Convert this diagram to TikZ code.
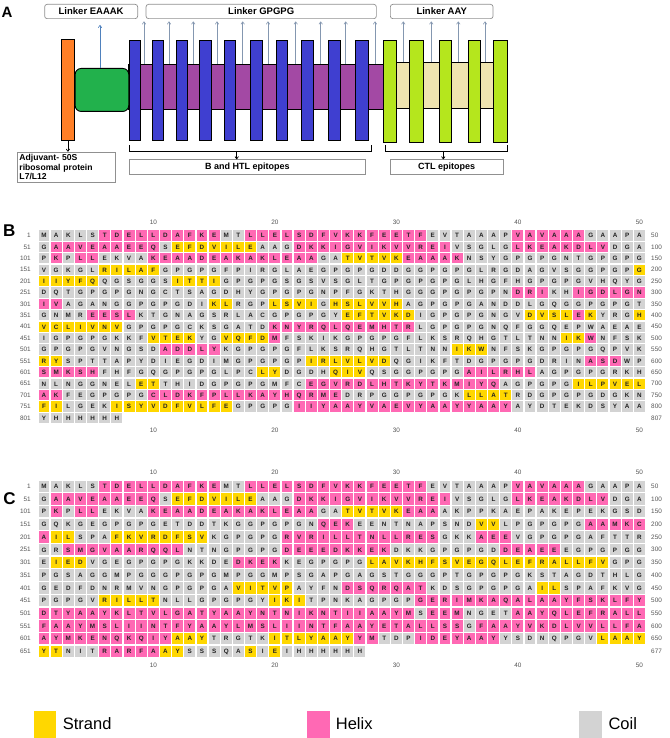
\documentclass[tikz,border=0pt]{standalone}
\usepackage{fontspec}
\setmainfont{Liberation Sans}
\usetikzlibrary{arrows.meta}
\definecolor{helixc}{HTML}{FF69B4}
\definecolor{strandc}{HTML}{FFD700}
\definecolor{coilc}{HTML}{D3D3D3}
\definecolor{orangebar}{HTML}{FF7F27}
\definecolor{greenbox}{HTML}{22B14C}
\definecolor{bluebarc}{HTML}{3F3FD0}
\definecolor{purpleband}{HTML}{A349A4}
\definecolor{limebar}{HTML}{B5E61D}
\definecolor{beigeband}{HTML}{EFE4B0}
\definecolor{arrowgray}{HTML}{8497B0}
\definecolor{linkblue}{HTML}{4F81BD}
\definecolor{boxgray}{HTML}{909090}
\definecolor{numgray}{HTML}{555555}
\definecolor{lettc}{HTML}{222222}
\newcount\colidx
\def\cellh{10.2pt}
\makeatletter
\def\sr@st{C}
\newcommand\seqcells[3]{%
  \def\sr@p{#1}\def\sr@y{#2}\def\sr@st{C}\global\colidx=0
  \sr@next#3\relax}
\def\sr@next#1{\ifx#1\relax\else\sr@do#1\expandafter\sr@next\fi}
\def\sr@do#1{%
  \if h#1\def\sr@st{H}\else
  \if e#1\def\sr@st{E}\else
  \if c#1\def\sr@st{C}\else
  \global\advance\colidx by 1
  \node[cell\sr@st] (\sr@p-\the\colidx) at ({44+(\the\colidx-1)*12.15},\sr@y) {#1};%
  \fi\fi\fi}
\makeatother
\newcommand\seqline[5]{%
  \node[rownum,anchor=east] (#1l) at (31,#2) {#3};
  \node[rownum,anchor=west] (#1r) at (651,#2) {#4};
  \seqcells{#1}{#2}{#5}}
\tikzset{
  cellbase/.style={minimum width=10.9pt,minimum height=\cellh,inner sep=0pt,
    text height=4.6pt,text depth=0pt,text=lettc,font=\bfseries\fontsize{6.3}{7}\selectfont},
  cellH/.style={cellbase,fill=helixc},
  cellE/.style={cellbase,fill=strandc},
  cellC/.style={cellbase,fill=coilc},
  rownum/.style={inner sep=0pt,font=\fontsize{6.4}{7}\selectfont,text=numgray},
  colnum/.style={inner sep=0pt,font=\fontsize{6.4}{7}\selectfont,text=numgray},
  panellab/.style={inner sep=0pt,font=\bfseries\fontsize{17}{18}\selectfont},
  linkbox/.style={draw=boxgray,rounded corners=2.5pt,line width=0.7pt,inner sep=0pt,
    anchor=north west,minimum height=14.3pt,font=\bfseries\fontsize{9.5}{10}\selectfont},
  epibox/.style={draw=boxgray,line width=0.6pt,inner sep=0pt,anchor=north west,
    minimum height=14.7pt,font=\bfseries\fontsize{9}{10}\selectfont},
  barbase/.style={draw=black,line width=0.9pt,inner sep=0pt,anchor=north west},
  bluebar/.style={barbase,fill=bluebarc,minimum height=100.5pt},
  limebarst/.style={barbase,fill=limebar,minimum height=101.7pt},
  garrow/.style={draw=arrowgray,line width=0.6pt,-{To[length=3pt,width=4pt]}},
  barrow/.style={draw=black,line width=0.7pt,-{To[length=3pt,width=4pt]}},
  bracketline/.style={draw=black,line width=0.7pt},
  legsq/.style={inner sep=0pt,anchor=north west,minimum width=22.7pt,minimum height=26.5pt},
  legtxt/.style={inner sep=0pt,anchor=west,font=\fontsize{16.5}{18}\selectfont},
}
\begin{document}
\begin{tikzpicture}[x=1pt,y=-1pt]
\fill[white] (0,0) rectangle (669,738);
\useasboundingbox (0,0) rectangle (669,738);
% ---------------- Panel A ----------------
\node[panellab,font=\bfseries\fontsize{15}{16}\selectfont] (pA) at (7,12.8) {A};
\node[linkbox,minimum width=93pt] (lk1) at (44.3,4) {Linker EAAAK};
\node[linkbox,minimum width=230.3pt] (lk2) at (145.7,4) {Linker GPGPG};
\node[linkbox,minimum width=102.7pt] (lk3) at (390,4) {Linker AAY};
\node[barbase,fill=purpleband,minimum width=255pt,minimum height=44.7pt] (band) at (128.3,64) {};
\node[barbase,fill=beigeband,minimum width=96.7pt,minimum height=46.3pt] (bband) at (396,62) {};
\node[barbase,fill=orangebar,minimum width=13pt,minimum height=100.7pt] (adj) at (61,39.3) {};
\node[barbase,fill=greenbox,rounded corners=6pt,minimum width=53.6pt,minimum height=43pt] (green) at (74.7,68) {};
\foreach \xl/\w [count=\i] in {129.3/10.7,152/11.3,176.3/11,199.3/11.4,223.7/11.6,250/11.7,275.7/11.6,301.3/11.7,328.3/11.7,355.3/12.4}
  \node[bluebar,minimum width=\w pt] (bb\i) at (\xl,40) {};
\foreach \xl/\w [count=\i] in {383.3/12.7,409.3/13.4,438.7/12,467.7/12.3,492.7/14}
  \node[limebarst,minimum width=\w pt] (lb\i) at (\xl,40) {};
\foreach \ax [count=\i] in {144,169,193.3,217,242.7,268,295.7,320.7,345.7,375}{
  \coordinate (gt\i) at (\ax,21.5);
  \draw[garrow] (band.north -| gt\i) -- (gt\i);}
\foreach \ax [count=\i] in {403.3,431.3,458.3,485}{
  \coordinate (at\i) at (\ax,21.5);
  \draw[garrow] (bband.north -| at\i) -- (at\i);}
\coordinate (et) at (100,25);
\draw[garrow,draw=linkblue] (green.north -| et) -- (et);
% brackets
\coordinate (bL) at (129.3,145);
\coordinate (bR) at (371.7,145);
\coordinate (bM) at (236.7,151);
\draw[bracketline] (bL) -- (bL |- bM) -- (bR |- bM) -- (bR);
\coordinate (cL) at (385,145);
\coordinate (cR) at (507.3,145);
\coordinate (cM) at (443.3,151);
\draw[bracketline] (cL) -- (cL |- cM) -- (cR |- cM) -- (cR);
\node[epibox,minimum width=235.7pt] (bhtl) at (129.3,159.3) {B and HTL epitopes};
\node[epibox,minimum width=112.7pt] (ctl) at (390,159.3) {CTL epitopes};
\draw[barrow] (bM) -- (bhtl.north -| bM);
\draw[barrow] (cM) -- (ctl.north -| cM);
\node[epibox,minimum height=30pt,align=left,inner xsep=2.5pt,text width=93.3pt,
  font=\bfseries\fontsize{8.6}{9.1}\selectfont] (adjbox) at (16.7,151.7)
  {Adjuvant- 50S\\ribosomal protein\\L7/L12};
\draw[barrow] (adj.south) -- (adj.south |- adjbox.north);
% ---------------- Panel B ----------------
\node[panellab] (pB) at (9.2,230.5) {B};
\foreach \n in {10,20,30,40,50}{
  \node[colnum] (Bt\n) at ({44+(\n-1)*12.15},222) {\n};
  \node[colnum] (Bb\n) at ({44+(\n-1)*12.15},430.7) {\n};}
\seqline{B1}{235.5}{1}{50}{c MAKLS h TDELLDAFKE c MT h LLELSDFVKKFEETF c EVTAAAP h VAVAAA c GAAPA}
\seqline{B51}{246.9}{51}{100}{c G h AAVEAAEEQ c S e EFDVILE c AAG h DKKIGVIKVVREI c VSGLG h LKEAKDLV c DGA}
\seqline{B101}{258.3}{101}{150}{c P h K c P h LL c EKVA h KEAADEAKAKLEAA c GA e TVTVK h EAAAK c NSYGPGPGNTGPGPG}
\seqline{B151}{269.7}{151}{200}{c VGKGL e RILAF c GPGPGFPIRGLAEGP GPGDDGGPGPGLRGDAGVSGGPGP e G}
\seqline{B201}{281.1}{201}{250}{e IIYFQ c QGSGGS e ITTI c GPGPGSGSVS GLTGPGPGPGLHGFHGPGPGVHQYG}
\seqline{B251}{292.5}{251}{300}{c DQTGPGPGNGCTSAGDHYGPGPGNP FGKTHGGGPGPGPN h DRI c KH h IGDLGN}
\seqline{B301}{303.9}{301}{350}{h IV c AGANGGPGPGDI e KL c RGP e LSVI c G e HSLVVH c AGPGPGANDDLGQGGPGPGT}
\seqline{B351}{315.3}{351}{400}{c GNMR h EESL c KTGNAGSRLACGPGPGY e EFTVKD c IGPGPGNGV e DVSL h E e K c YRG e H}
\seqline{B401}{326.7}{401}{450}{e VCLIVNV c GPGPGCKSGATD h KNYRQLQEMHTR c LGPGPGNQFGGQEPWAEAE}
\seqline{B451}{338.1}{451}{500}{c IGPGPGKKF e VTEK c YG e VQFD h M c FSKIK GPGPGFLKSRQHGTLTNN e IK h W c NFSK}
\seqline{B501}{349.5}{501}{550}{c GPGPGVNGSD h ADDLY c KGPGPGFLKS RQHGTLTNN e IKW c NFSKGPGPGQPVK}
\seqline{B551}{360.9}{551}{600}{e RY c SPTTAPYDIEGDIMGPGPGP e IRLVLVD c QGIKFTDGPGPGDRIN h ASD c WP}
\seqline{B601}{372.3}{601}{650}{h SMKSH c FHFGQGPGPGLPC e LY c DGDH e QIV c QSGGPGPG h AILRHL c AGPGPGRKH}
\seqline{B651}{383.7}{651}{700}{c NLNGGNEL e ET c THIDGPGPGMFC h EGVRDLHTKYTKMIYQ c AGPGPG e ILPVEL}
\seqline{B701}{395.1}{701}{750}{h AK c FEGPGPG h CLDKFPLLKAYHQRME c DRPGGPGPGK e LLAT c RDGPGPGDGKN}
\seqline{B751}{406.5}{751}{800}{e FI c LGEK e ISYVDFVLFE c GPGPG h IIYAAYVAEVYAAYYAAY c AYDTEKDSYAA}
\seqline{B801}{417.9}{801}{807}{c YHHHHHH}
% ---------------- Panel C ----------------
\def\cellh{11.4pt}
\node[panellab] (pC) at (9.5,498.7) {C};
\foreach \n in {10,20,30,40,50}{
  \node[colnum] (Ct\n) at ({44+(\n-1)*12.15},472.3) {\n};
  \node[colnum] (Cb\n) at ({44+(\n-1)*12.15},665.3) {\n};}
\seqline{C1}{486.2}{1}{50}{c MAKLS h TDELLDAFKE c MT h LLELSDFVKKFEETF c EVTAAAP h VAVAAA c GAAPA}
\seqline{C51}{498.9}{51}{100}{c G h AAVEAAEEQ c S e EFDVILE c AAG h DKKIGVIKVVREI c VSGLG h LKEAKDLV c DGA}
\seqline{C101}{511.6}{101}{150}{c P h K c P h LL c EKVA h KEAADEAKAKLEAA c GA e TVTVK h EAA c AKPPKAEPAKEPEKGSD}
\seqline{C151}{524.3}{151}{200}{c GQKGEGPGPGETDDTKGGPGPGN h QEK c EENTNAPSND e VV c LPGPGPG h AAMKC}
\seqline{C201}{537.0}{201}{250}{h A e IL c SPA e FKVRDFSV c KGPGPG h RVRILLTNLLRES c GKK h AEE c VGPGPGAFTTR}
\seqline{C251}{549.7}{251}{300}{c GR h SMGVAARQQL c NTNGPGPG h DEEEDKKEK c DKKGPGPGD h DEAEE c EGPGPGG}
\seqline{C301}{562.4}{301}{350}{c E e IED c VGEGPGPGKKDE h DKEK c KEGPGPG e LAVKHFSVEGQLEFRALLFV c GPG}
\seqline{C351}{575.1}{351}{400}{c PGSAGGMPGGGPGPGMPGGMPSGAP GAGSTGGGPTGPGPGKSTAGDTHLG}
\seqline{C401}{587.8}{401}{450}{c GEDFDNRMVNGPGPGA e VITVP c AYFN h DSQRQAT c KDSGPGPGA e IL c SPAFKVG}
\seqline{C451}{600.5}{451}{500}{c PGPGV e RILLT c NLLGPGPGY e IKI c TPNKAGPGP h GERIMKAQALAAYFSKLFY}
\seqline{C501}{613.2}{501}{550}{h DTYAAYKLTVLGATYAAYNTNIKNTIIAAYM c S h EEM c NGET h AAYQLEFRALL}
\seqline{C551}{625.9}{551}{600}{h FAAYMSLIINTFYAAYLMSLIINTFAAYETALLSS c G h FAAYVKDLVVLLFA}
\seqline{C601}{638.6}{601}{650}{h AYMKENQKQIY e AAY c TRGTK e ITLYAAY h YM c TDP h IDEYAAY c YSDNQPGV e LAAY}
\seqline{C651}{651.3}{651}{677}{e YT c NIT h RARFA e AY c SSSQA e S c I e E c IHHHHHH}
% ---------------- Legend ----------------
\node[legsq,fill=strandc] (lgS) at (33.3,711) {};
\node[legtxt] (lgSt) at (62.7,723.3) {Strand};
\node[legsq,fill=helixc] (lgH) at (306.7,711) {};
\node[legtxt] (lgHt) at (335.7,723.3) {Helix};
\node[legsq,fill=coilc] (lgC) at (579,711) {};
\node[legtxt] (lgCt) at (608.3,723.3) {Coil};
\end{tikzpicture}
\end{document}
